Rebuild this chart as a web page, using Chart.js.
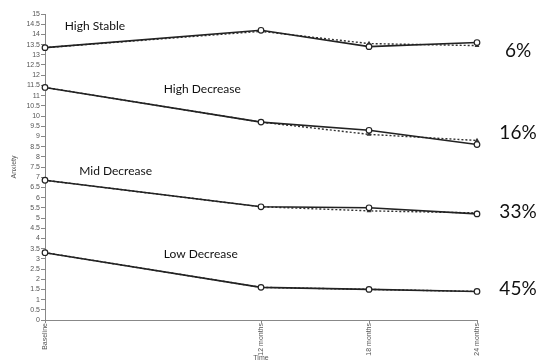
<!DOCTYPE html>
<html>
<head>
<meta charset="utf-8">
<script src="https://cdn.jsdelivr.net/npm/chart.js@4.4.0/dist/chart.umd.min.js"></script>
<style>
  html, body { margin: 0; padding: 0; background: #fff; }
  #wrap { width: 546px; height: 362px; position: relative; }
</style>
</head>
<body>
<div id="wrap"><canvas id="chart"></canvas></div>
<script>
// time points (months) and their tick labels
const months = [0, 12, 18, 24];
const timeLabels = ['Baseline', '12 months', '18 months', '24 months'];

// observed (solid) and estimated (dotted) anxiety per class
const highStableObs = [13.35, 14.2, 13.4, 13.6];
const highStableEst = [13.35, 14.15, 13.55, 13.45];
const highDecObs = [11.4, 9.7, 9.3, 8.6];
const highDecEst = [11.4, 9.7, 9.1, 8.8];
const midDecObs = [6.85, 5.55, 5.5, 5.2];
const midDecEst = [6.85, 5.55, 5.35, 5.25];
const lowDecObs = [3.3, 1.6, 1.5, 1.4];
const lowDecEst = [3.3, 1.6, 1.5, 1.4];

// class names, where the name sits (month, anxiety) and class share
const classNames = ['High Stable', 'High Decrease', 'Mid Decrease', 'Low Decrease'];
const namePos = [[1.1, 14.4], [6.6, 11.3], [1.9, 7.3], [6.6, 3.25]];
const shares = ['6%', '16%', '33%', '45%'];
const sharePos = [13.2, 9.15, 5.3, 1.55];

function pts(vals) {
  return months.map((m, i) => ({ x: m, y: vals[i] }));
}

function solid(vals) {
  return {
    data: pts(vals),
    borderColor: '#222',
    borderWidth: 1.6,
    pointRadius: 2.8,
    pointBackgroundColor: '#fff',
    pointBorderColor: '#222',
    pointBorderWidth: 1.2,
    clip: false
  };
}

function dotted(vals) {
  return {
    data: pts(vals),
    borderColor: '#333',
    borderWidth: 1.4,
    borderDash: [2, 2],
    pointRadius: 1.4,
    pointStyle: 'triangle',
    pointBackgroundColor: '#333',
    pointBorderColor: '#333',
    clip: false
  };
}

const labelsPlugin = {
  id: 'classLabels',
  afterDatasetsDraw(chart) {
    const ctx = chart.ctx;
    const xs = chart.scales.x, ys = chart.scales.y;
    ctx.save();
    ctx.fillStyle = '#111';
    ctx.textBaseline = 'middle';
    ctx.textAlign = 'left';
    ctx.font = '12px Lato';
    classNames.forEach((n, i) => {
      ctx.fillText(n, xs.getPixelForValue(namePos[i][0]), ys.getPixelForValue(namePos[i][1]));
    });
    ctx.font = '19px Lato';
    ctx.textAlign = 'center';
    shares.forEach((s, i) => {
      ctx.fillText(s, chart.chartArea.right + 41, ys.getPixelForValue(sharePos[i]));
    });
    ctx.restore();
  }
};

const smallFont = { size: 7, family: "'Liberation Sans Narrow', 'Liberation Sans'" };

new Chart(document.getElementById('chart'), {
  type: 'line',
  data: {
    datasets: [
      solid(highStableObs), dotted(highStableEst),
      solid(highDecObs), dotted(highDecEst),
      solid(midDecObs), dotted(midDecEst),
      solid(lowDecObs), dotted(lowDecEst)
    ]
  },
  options: {
    responsive: true,
    maintainAspectRatio: false,
    animation: false,
    layout: { padding: { top: 14, right: 69, left: 10, bottom: 0 } },
    plugins: { legend: { display: false }, tooltip: { enabled: false } },
    scales: {
      x: {
        type: 'linear',
        min: 0,
        max: 24,
        afterBuildTicks(scale) {
          scale.ticks = months.map(m => ({ value: m }));
        },
        afterFit(scale) { scale.height = 42; },
        ticks: {
          minRotation: 90,
          maxRotation: 90,
          padding: 0,
          font: smallFont,
          color: '#555',
          callback: (v) => timeLabels[months.indexOf(v)]
        },
        grid: { drawOnChartArea: false, tickLength: 3, color: '#888' },
        border: { color: '#888' },
        title: { display: true, text: 'Time', font: smallFont, color: '#555', padding: 0 }
      },
      y: {
        min: 0,
        max: 15,
        afterFit(scale) { scale.width = 35; },
        ticks: {
          stepSize: 0.5,
          autoSkip: false,
          padding: 1,
          font: smallFont,
          color: '#555',
          callback: (v) => String(v)
        },
        grid: { drawOnChartArea: false, tickLength: 4, color: '#888' },
        border: { color: '#888' },
        title: { display: true, text: 'Anxiety', font: smallFont, color: '#555', padding: 0 }
      }
    }
  },
  plugins: [labelsPlugin]
});
</script>
</body>
</html>
